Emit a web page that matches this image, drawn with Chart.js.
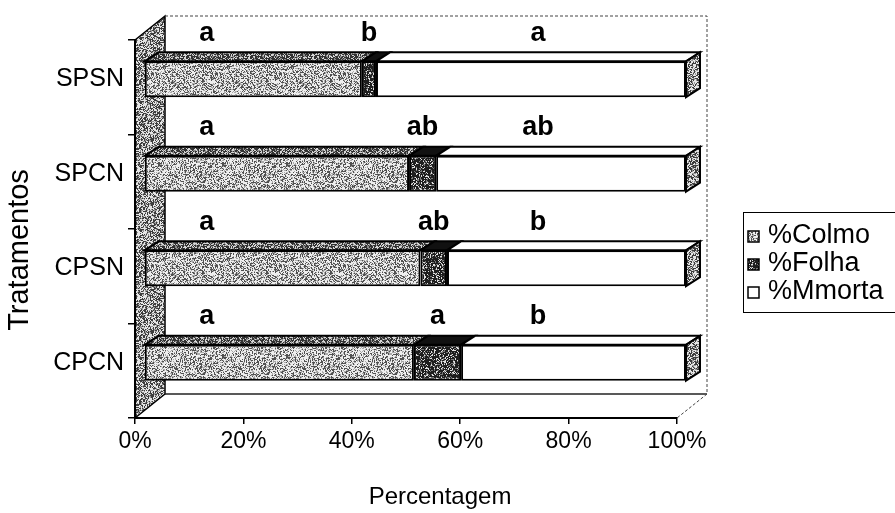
<!DOCTYPE html>
<html><head><meta charset="utf-8">
<script src="https://cdn.jsdelivr.net/npm/chart.js@4.4.1/dist/chart.umd.min.js"></script>
<style>html,body{margin:0;padding:0;background:#fff;}</style>
</head><body>
<canvas id="c" width="895" height="513"></canvas>
<script>
// ---- data ----
const categories = ['SPSN', 'SPCN', 'CPSN', 'CPCN'];
const colmo  = [40.2, 48.9, 51.0, 49.8];
const folha  = [2.6, 5.0, 4.9, 8.7];
const mmorta = [57.2, 46.1, 44.1, 41.5];
const seriesNames = ['%Colmo', '%Folha', '%Mmorta'];
const lettersColmo  = ['a', 'a', 'a', 'a'];
const lettersFolha  = ['b', 'ab', 'ab', 'a'];
const lettersMmorta = ['a', 'ab', 'b', 'b'];
const xTicks = [0, 20, 40, 60, 80, 100];
const xTitle = 'Percentagem';
const yTitle = 'Tratamentos';

// ---- style ----
const FONT = '"Liberation Sans", Arial, sans-serif';
const DX = 9, DY = -8;        // bar front face offset from front plane
const BDX = 14, BDY = -9;     // bar depth
const WDX = 30, WDY = -24;    // wall depth
const LETTER_COL1 = 11.6, LETTER_COL3 = 72.7; // letter anchor positions (axis %)

const cv = document.getElementById('c');
const ctx0 = cv.getContext('2d');

function hash(x, y, s) {
  let h = (Math.imul(x, 374761393) + Math.imul(y, 668265263) + Math.imul(s, 2246822519)) | 0;
  h = Math.imul(h ^ (h >>> 13), 1274126177);
  h ^= h >>> 16;
  return (h >>> 0) / 4294967296;
}
function makePattern(seed, levels) {
  const size = 64;
  const c = document.createElement('canvas'); c.width = c.height = size;
  const g = c.getContext('2d');
  const img = g.createImageData(size, size);
  for (let y = 0; y < size; y++) for (let x = 0; x < size; x++) {
    const v = hash(x, y, seed);
    let col = levels[levels.length - 1][1];
    for (const [t, cc] of levels) { if (v < t) { col = cc; break; } }
    const i = (y * size + x) * 4;
    img.data[i] = img.data[i + 1] = img.data[i + 2] = col; img.data[i + 3] = 255;
  }
  g.putImageData(img, 0, 0);
  return ctx0.createPattern(c, 'repeat');
}
const patColmo = makePattern(1, [[0.30, 80], [0.52, 170], [1, 238]]);
const patFolha = makePattern(2, [[0.68, 30], [0.83, 120], [1, 225]]);
const patColmoTop = makePattern(3, [[0.5, 50], [0.7, 140], [1, 215]]);
const patWall = makePattern(4, [[0.42, 60], [0.62, 150], [1, 230]]);

const fills = [patColmo, patFolha, '#ffffff'];
const topFills = [patColmoTop, '#111111', '#ffffff'];
const letterSets = [lettersColmo, lettersFolha, lettersMmorta];

const threeD = {
  id: 'threeD',
  beforeDraw(chart) {
    const { ctx, chartArea: a } = chart;
    ctx.save();
    ctx.beginPath();
    ctx.moveTo(a.left, a.top);
    ctx.lineTo(a.left + WDX, a.top + WDY);
    ctx.lineTo(a.left + WDX, a.bottom + WDY);
    ctx.lineTo(a.left, a.bottom);
    ctx.closePath();
    ctx.fillStyle = patWall; ctx.fill();
    ctx.strokeStyle = '#000'; ctx.lineWidth = 1.5; ctx.stroke();
    ctx.beginPath();
    ctx.moveTo(a.left + WDX, a.bottom + WDY);
    ctx.lineTo(a.right + WDX, a.bottom + WDY);
    ctx.strokeStyle = '#222'; ctx.lineWidth = 1.5; ctx.stroke();
    ctx.setLineDash([3, 2]);
    ctx.lineWidth = 1; ctx.strokeStyle = '#444';
    ctx.beginPath();
    ctx.moveTo(a.left + WDX, a.top + WDY);
    ctx.lineTo(a.right + WDX, a.top + WDY);
    ctx.lineTo(a.right + WDX, a.bottom + WDY);
    ctx.lineTo(a.right, a.bottom);
    ctx.stroke();
    ctx.restore();
  },
  beforeDatasetsDraw(chart) {
    chart.ctx.save();
    chart.ctx.translate(DX, DY);
  },
  afterDatasetsDraw(chart) {
    const ctx = chart.ctx;
    ctx.restore();
    ctx.save();
    const nDs = chart.data.datasets.length;
    const xs = chart.scales.x;
    chart.data.datasets.forEach((ds, d) => {
      const meta = chart.getDatasetMeta(d);
      meta.data.forEach((bar, i) => {
        const p = bar.getProps(['x', 'base', 'y', 'height'], true);
        const l = Math.min(p.x, p.base) + DX, r = Math.max(p.x, p.base) + DX;
        const t = p.y - p.height / 2 + DY, b = p.y + p.height / 2 + DY;
        ctx.beginPath();
        ctx.moveTo(l, t); ctx.lineTo(r, t); ctx.lineTo(r + BDX, t + BDY); ctx.lineTo(l + BDX, t + BDY); ctx.closePath();
        ctx.fillStyle = topFills[d]; ctx.fill();
        ctx.strokeStyle = '#000'; ctx.lineWidth = 2; ctx.stroke();
        if (d === nDs - 1) {
          ctx.beginPath();
          ctx.moveTo(r, t); ctx.lineTo(r + BDX, t + BDY); ctx.lineTo(r + BDX, b + BDY); ctx.lineTo(r, b); ctx.closePath();
          ctx.fillStyle = patWall; ctx.fill();
          ctx.stroke();
        }
      });
    });
    ctx.font = 'bold 27px ' + FONT;
    ctx.fillStyle = '#000'; ctx.textAlign = 'center'; ctx.textBaseline = 'middle';
    const m0 = chart.getDatasetMeta(0);
    m0.data.forEach((bar, i) => {
      const y = bar.y + DY - 46;
      const c2 = colmo[i] + folha[i] / 2;
      const cols = [LETTER_COL1, c2, LETTER_COL3];
      cols.forEach((v, k) => {
        ctx.fillText(letterSets[k][i], xs.getPixelForValue(v) + DX, y);
      });
    });
    ctx.restore();
  },
  afterDraw(chart) {
    const ctx = chart.ctx;
    ctx.save();
    ctx.fillStyle = '#000'; ctx.textAlign = 'center'; ctx.textBaseline = 'middle';
    ctx.font = '24px ' + FONT;
    ctx.fillText(xTitle, 440, 497);
    ctx.save();
    ctx.translate(20, 250); ctx.rotate(-Math.PI / 2);
    ctx.font = '29px ' + FONT;
    ctx.fillText(yTitle, 0, 0);
    ctx.restore();
    ctx.strokeStyle = '#000'; ctx.lineWidth = 1;
    ctx.strokeRect(743.5, 212.5, 170, 100);
    ctx.font = '27px ' + FONT; ctx.textBaseline = 'middle'; ctx.textAlign = 'left';
    const ys = [236, 264, 292];
    chart.data.datasets.forEach((ds, d) => {
      ctx.fillStyle = fills[d];
      ctx.fillRect(748, ys[d] - 5, 11, 11);
      ctx.strokeStyle = '#000'; ctx.lineWidth = 1.5;
      ctx.strokeRect(748, ys[d] - 5, 11, 11);
      ctx.fillStyle = '#000';
      ctx.fillText(ds.label, 768, ys[d]);
    });
    ctx.restore();
  }
};

Chart.defaults.font.family = FONT;
Chart.defaults.color = '#000';

const mk = (k, data) => ({
  label: seriesNames[k], data, backgroundColor: fills[k],
  borderColor: '#000', borderWidth: 2, borderSkipped: false,
  barPercentage: 0.38, categoryPercentage: 1.0, clip: false
});

new Chart(cv, {
  type: 'bar',
  data: { labels: categories, datasets: [mk(0, colmo), mk(1, folha), mk(2, mmorta)] },
  options: {
    indexAxis: 'y', responsive: false, animation: false, devicePixelRatio: 1,
    layout: { padding: { top: 40, right: 218, left: 0, bottom: 0 } },
    plugins: { legend: { display: false }, tooltip: { enabled: false } },
    scales: {
      x: {
        type: 'linear', stacked: true, min: 0, max: 100,
        afterBuildTicks: s => { s.ticks = xTicks.map(v => ({ value: v })); },
        afterFit: s => { s.height = 95; },
        ticks: { callback: v => v + '%', font: { size: 23 }, color: '#000', padding: 4, maxRotation: 0 },
        grid: { display: true, drawOnChartArea: false, drawTicks: true, tickLength: 6, color: '#000', lineWidth: 1.5 },
        border: { display: true, color: '#000', width: 2 },
        title: { display: false }
      },
      y: {
        type: 'category', stacked: true,
        afterFit: s => { s.width = 135; },
        ticks: { font: { size: 25 }, color: '#000', padding: 4, labelOffset: DY },
        grid: { display: true, drawOnChartArea: false, drawTicks: true, tickLength: 7, color: '#000', lineWidth: 1.5, offset: true },
        border: { display: true, color: '#000', width: 2 },
        title: { display: false }
      }
    }
  },
  plugins: [threeD]
});
</script>
</body></html>
